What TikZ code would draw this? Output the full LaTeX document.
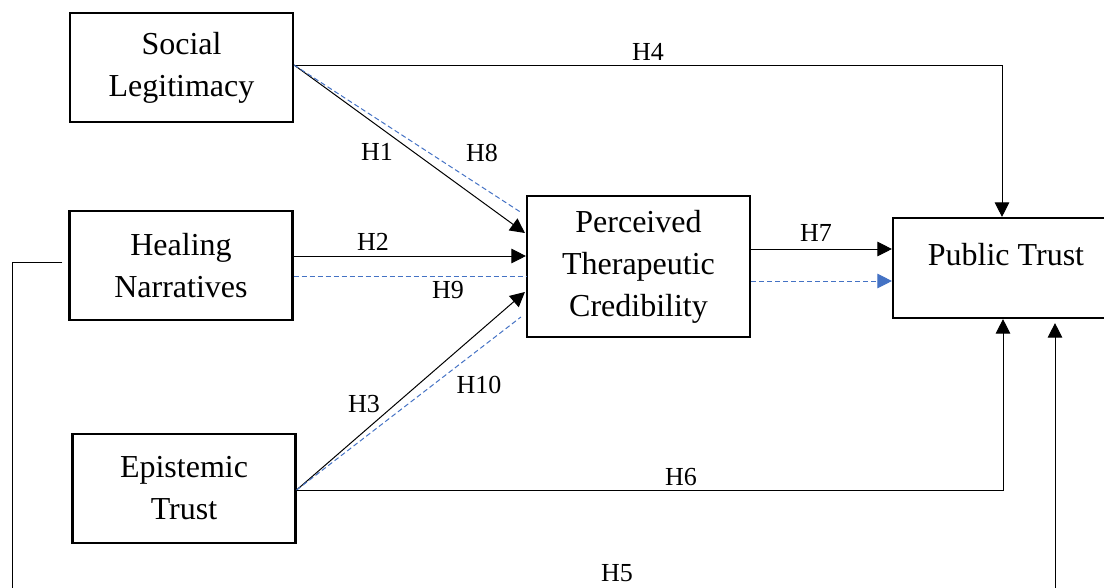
\documentclass[tikz,border=0pt]{standalone}
\usepackage{fontspec}
\setmainfont{Liberation Serif}
\usetikzlibrary{arrows.meta,calc}
\definecolor{dashblue}{HTML}{4472C4}
\begin{document}
\begin{tikzpicture}[x=0.75pt,y=-0.75pt,
  box/.style={draw,line width=1.6pt,align=center,inner sep=0pt,
    font=\fontsize{24}{31.5}\selectfont,minimum width=167.25pt},
  conn/.style={line width=0.75pt,-{Triangle[length=11pt,width=11pt]}},
  plainline/.style={line width=0.75pt},
  bluedash/.style={draw=dashblue,line width=0.75pt,dash pattern=on 3.75pt off 2.25pt},
  bluearrow/.style={bluedash,-{Triangle[length=11pt,width=11pt,color=dashblue]}},
  hlab/.style={font=\fontsize{19.5}{22}\selectfont,inner sep=0pt}]
\useasboundingbox (0,0) rectangle (1104,587);
\clip (0,0) rectangle (1104,587);

% boxes
\node[box,minimum height=81.75pt] (SL) at (181.5,67.5) {Social\\Legitimacy};
\node[box,minimum height=81.75pt] (HN) at (181,265.5) {Healing\\Narratives};
\node[box,minimum height=81.75pt] (ET) at (184,488.5) {Epistemic\\Trust};
\node[box,minimum height=105.75pt] (PTC) at (638.5,266.5) {Perceived\\Therapeutic\\Credibility};
\node[box,minimum height=75pt,minimum width=169.5pt,text height=16.5pt,text depth=21pt] (PT) at (1006,268) {Public Trust};

% helper coordinates
\coordinate (sls) at ($(SL.east)+(0,-2.5)$);
\coordinate (h2s) at ($(HN.east)+(0,-9.5)$);
\coordinate (h9s) at ($(HN.east)+(0,10.5)$);
\coordinate (ets) at ($(ET.east)+(0,1.5)$);
\coordinate (h1e) at ($(PTC.west)+(-1,-33.5)$);
\coordinate (h8e) at ($(PTC.west)+(-4,-53.5)$);
\coordinate (h3e) at ($(PTC.west)+(-1,25.5)$);
\coordinate (h10e) at ($(PTC.west)+(-5,50.5)$);
\coordinate (h4c) at ($(PT.north)+(-4,0)$);
\coordinate (h6c) at ($(PT.south)+(-3,0)$);
\coordinate (h7s) at ($(PTC.east)+(0,-17.5)$);
\coordinate (h7bs) at ($(PTC.east)+(0,14.5)$);
\coordinate (h5s) at ($(HN.west)+(-6,-3.5)$);
\coordinate (h5e) at ($(PT.south)+(49,4)$);

% H4
\draw[conn] (sls) -- (sls -| h4c) -- (h4c);
% H1, H8
\draw[conn] (sls) -- (h1e);
\draw[bluedash] (sls) -- (h8e);
% H2, H9
\draw[conn] (h2s) -- (h2s -| PTC.west);
\draw[bluedash] (h9s) -- (h9s -| PTC.west);
% H3, H10
\draw[conn] (ets) -- (h3e);
\draw[bluedash] (ets) -- (h10e);
% H6
\draw[conn] (ets) -- (ets -| h6c) -- (h6c);
% H7
\draw[conn] (h7s) -- (h7s -| PT.west);
\draw[bluearrow] (h7bs) -- (h7bs -| PT.west);
% H5
\draw[conn] (h5s) -- (12,262) -- (12,620) -- (h5e |- 0,620) -- (h5e);

% labels
\node[hlab] (lH4) at (648,52) {H4};
\node[hlab] (lH1) at (377,152) {H1};
\node[hlab] (lH8) at (482,153) {H8};
\node[hlab] (lH2) at (373,242) {H2};
\node[hlab] (lH9) at (448,290) {H9};
\node[hlab] (lH3) at (364,404) {H3};
\node[hlab] (lH10) at (479,385) {H10};
\node[hlab] (lH7) at (816,233) {H7};
\node[hlab] (lH6) at (681,477) {H6};
\node[hlab] (lH5) at (617,573) {H5};
\end{tikzpicture}
\end{document}
